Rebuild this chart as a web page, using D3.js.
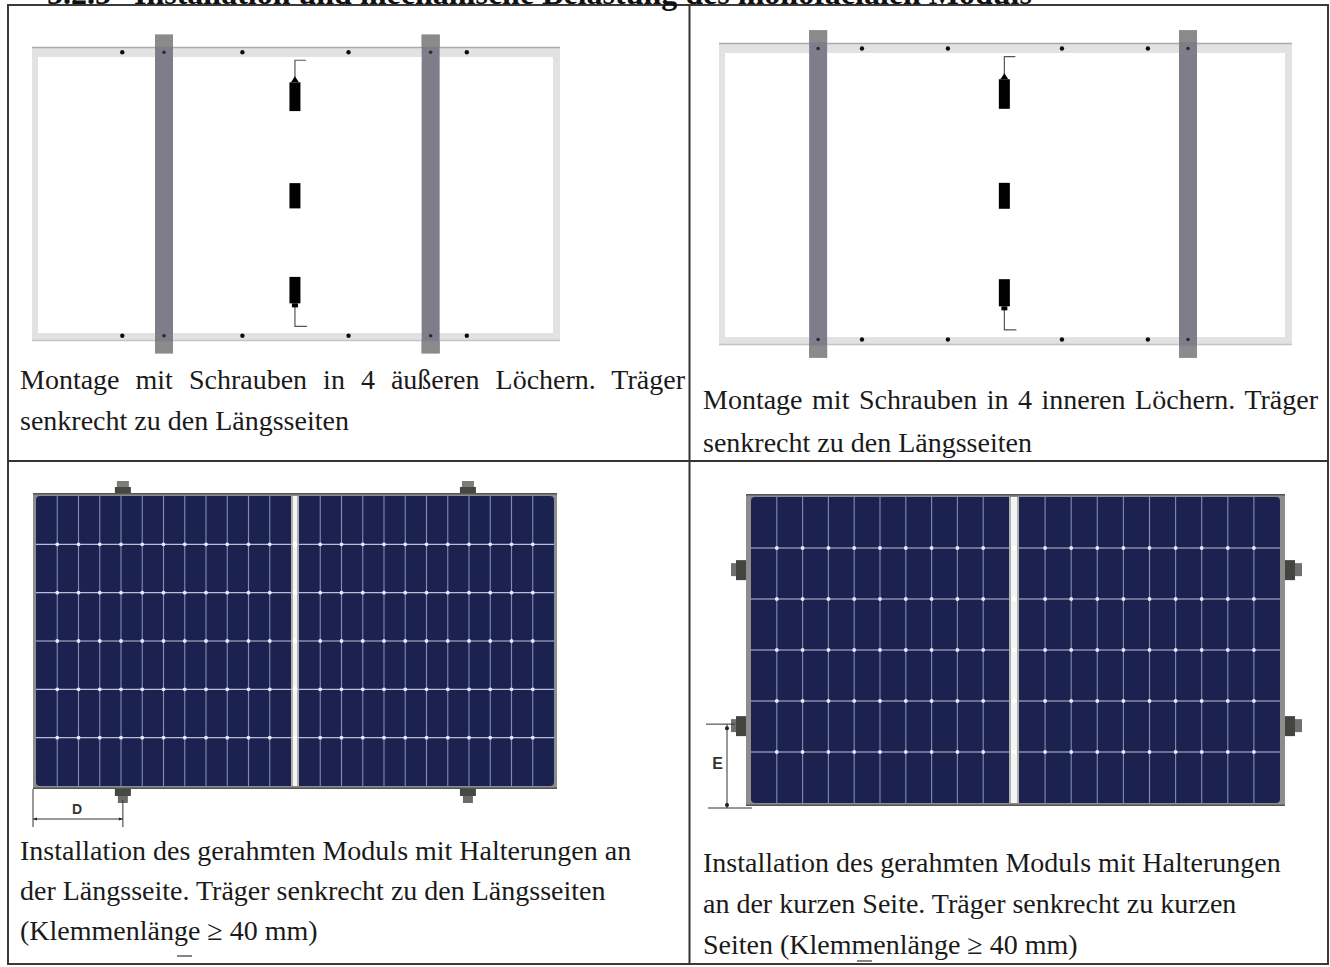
<!DOCTYPE html>
<html>
<head>
<meta charset="utf-8">
<script src="https://cdn.jsdelivr.net/npm/d3@7"></script>
<style>
  body { margin: 0; background: #fff; }
  svg { display: block; }
  text { font-family: "Liberation Serif", serif; fill: #1a1a1a; }
</style>
</head>
<body>
<svg width="1330" height="967"></svg>
<script>
    // module coordinates in mm along length (x) and width (y)
    let headingNumber = "5.2.5";
    let headingText = "Installation und mechanische Belastung des monofacialen Moduls";

    let captionsA = ["Montage mit Schrauben in 4 äußeren Löchern. Träger", "senkrecht zu den Längsseiten"];
    let captionsB = ["Montage mit Schrauben in 4 inneren Löchern. Träger", "senkrecht zu den Längsseiten"];
    let captionsC = ["Installation des gerahmten Moduls mit Halterungen an", "der Längsseite. Träger senkrecht zu den Längsseiten", "(Klemmenlänge ≥ 40 mm)"];
    let captionsD = ["Installation des gerahmten Moduls mit Halterungen", "an der kurzen Seite. Träger senkrecht zu kurzen", "Seiten (Klemmenlänge ≥ 40 mm)"];

    let holesA = [342, 500, 797, 1199, 1510, 1647];
    let holesB = [345, 499, 799, 1197, 1497, 1633];
    let holeRows = [18, 982];
    let beamsA = [500, 1510];
    let beamsB = [346, 1637];
    let boxes = [[120, 218], [463, 549], [782, 872]];
    let clampsC = [343, 1660];
    let clampsD = [244, 744];

    let cellsC = { columns: 12, rows: 6 };
    let cellsD = { columns: 10, rows: 6 };

    let svg = d3.select("svg");

    svg.append("defs").append("filter")
        .attr("id", "soft")
        .append("feGaussianBlur")
        .attr("stdDeviation", 0.65);

    function scales(x0, x1, y0, y1) {
        return {
            x: d3.scaleLinear().domain([0, 2000]).range([x0, x1]),
            y: d3.scaleLinear().domain([0, 1000]).range([y0, y1])
        };
    }

    function rect(g, x, y, w, h, fill) {
        return g.append("rect")
            .attr("x", x).attr("y", y)
            .attr("width", w).attr("height", h)
            .attr("fill", fill);
    }

    function drawRear(s, holes, beams) {
        let g = svg.append("g").attr("filter", "url(#soft)");
        let x = s.x, y = s.y;
        let x0 = x(0), x1 = x(2000), y0 = y(0), y1 = y(1000);

        // frame, light inner band and darker outer edge
        rect(g, x0, y0, x1 - x0, y1 - y0, "#e2e2e2");
        rect(g, x0 + 6, y0 + 10, x1 - x0 - 13, y1 - y0 - 18, "#fff");
        g.append("line").attr("x1", x0).attr("x2", x1).attr("y1", y0 + 0.5).attr("y2", y0 + 0.5)
            .attr("stroke", "#aaa").attr("stroke-width", 1.5);
        g.append("line").attr("x1", x0).attr("x2", x1).attr("y1", y1 - 0.5).attr("y2", y1 - 0.5)
            .attr("stroke", "#c4c4c4").attr("stroke-width", 1.5);

        holeRows.forEach(function (row) {
            g.selectAll(null)
                .data(holes)
                .join("circle")
                .attr("cx", d => x(d))
                .attr("cy", y(row))
                .attr("r", 2.2)
                .attr("fill", "#111");
        });

        beams.forEach(function (b) {
            let bx = x(b) - 9;
            rect(g, bx, y(-42), 18, y(1042) - y(-42), "#7f7d89");
            rect(g, bx, y(-42), 18, 12, "#8b8b8b");
            rect(g, bx, y(1042) - 12, 18, 12, "#8b8b8b");
            holeRows.forEach(function (row) {
                g.append("circle")
                    .attr("cx", x(b)).attr("cy", y(row)).attr("r", 1.8).attr("fill", "#2a2a33");
            });
        });

        // junction boxes with cables
        let bx = x(996);
        boxes.forEach(function (d) {
            rect(g, bx - 5.5, y(d[0]), 11, y(d[1]) - y(d[0]), "#050505");
        });
        g.append("path")
            .attr("d", `M${bx},${y(boxes[0][0])} V${y(45)} H${bx + 11}`)
            .attr("fill", "none").attr("stroke", "#555").attr("stroke-width", 1.2);
        g.append("path")
            .attr("d", `M${bx - 4},${y(boxes[0][0])} L${bx},${y(boxes[0][0]) - 6} L${bx + 4},${y(boxes[0][0])} Z`)
            .attr("fill", "#050505");
        g.append("path")
            .attr("d", `M${bx},${y(boxes[2][1])} V${y(950)} H${bx + 12}`)
            .attr("fill", "none").attr("stroke", "#555").attr("stroke-width", 1.2);
        rect(g, bx - 3, y(boxes[2][1]), 6, 4, "#050505");
    }

    function drawFront(s, cells, strip, pad) {
        let g = svg.append("g").attr("filter", "url(#soft)");
        let x0 = s.x(0), x1 = s.x(2000), y0 = s.y(0), y1 = s.y(1000);

        rect(g, x0, y0, x1 - x0, y1 - y0, "#8d8d8d");
        rect(g, x0, y0, x1 - x0, 1.5, "#555");
        rect(g, x0, y1 - 1.5, x1 - x0, 1.5, "#555");
        let ix0 = x0 + pad, ix1 = x1 - pad, iy0 = y0 + 3, iy1 = y1 - 3;
        rect(g, ix0, iy0, ix1 - ix0, iy1 - iy0, "#1c2450").attr("rx", 4);

        let left = d3.scaleLinear().domain([0, cells.columns]).range([ix0, strip[0]]);
        let right = d3.scaleLinear().domain([0, cells.columns]).range([strip[1], ix1]);
        let rows = d3.scaleLinear().domain([0, cells.rows]).range([iy0, iy1]);
        let inner = d3.range(1, cells.columns);
        let rowLines = d3.range(1, cells.rows);

        [left, right].forEach(function (col) {
            g.selectAll(null)
                .data(inner)
                .join("line")
                .attr("x1", d => col(d)).attr("x2", d => col(d))
                .attr("y1", iy0).attr("y2", iy1)
                .attr("stroke", "#7d8db5").attr("stroke-width", 1.1);
        });
        g.selectAll(null)
            .data(rowLines)
            .join("line")
            .attr("x1", ix0).attr("x2", ix1)
            .attr("y1", d => rows(d)).attr("y2", d => rows(d))
            .attr("stroke", "#b4bedb").attr("stroke-width", 1.2);

        [left, right].forEach(function (col) {
            rowLines.forEach(function (r) {
                g.selectAll(null)
                    .data(inner)
                    .join("circle")
                    .attr("cx", d => col(d)).attr("cy", rows(r))
                    .attr("r", 1.9).attr("fill", "#e6eaf5");
            });
        });

        rect(g, strip[0], iy0, strip[1] - strip[0], iy1 - iy0, "#f4f4f4");
        rect(g, strip[0], iy0, 2, iy1 - iy0, "#b0b0b0");
        rect(g, strip[1] - 2, iy0, 2, iy1 - iy0, "#b0b0b0");
        rowLines.forEach(function (r) {
            g.append("circle")
                .attr("cx", (strip[0] + strip[1]) / 2).attr("cy", rows(r))
                .attr("r", 2.4).attr("fill", "#fff");
        });
        return g;
    }

    // clamps on the long side: dark base against the frame, grey head outside
    function clampsLong(g, s, list) {
        list.forEach(function (d) {
            let cx = s.x(d), y0 = s.y(0), y1 = s.y(1000);
            rect(g, cx - 8, y0 - 6, 16, 6, "#45483f");
            rect(g, cx - 6, y0 - 12, 12, 6, "#7b7b7b");
            rect(g, cx - 8, y1, 16, 7, "#45483f");
            rect(g, cx - 5, y1 + 7, 10, 7, "#6b6b6b");
        });
    }

    function clampsShort(g, s, list) {
        list.forEach(function (d) {
            let cy = s.y(d), x0 = s.x(0), x1 = s.x(2000);
            rect(g, x0 - 10, cy - 10, 10, 20, "#45453f");
            rect(g, x0 - 15, cy - 7, 5, 13, "#6f6f6f");
            rect(g, x1, cy - 10, 10, 20, "#45453f");
            rect(g, x1 + 10, cy - 7, 7, 13, "#6f6f6f");
        });
    }

    function dim(g, x1, y1, x2, y2, w) {
        g.append("line")
            .attr("x1", x1).attr("y1", y1).attr("x2", x2).attr("y2", y2)
            .attr("stroke", "#333").attr("stroke-width", w || 1);
    }

    let panelA = scales(32, 560, 47, 341);
    let panelB = scales(719, 1292, 43, 345);
    let panelC = scales(33, 557, 493, 789);
    let panelD = scales(746, 1285, 494, 806);

    drawRear(panelA, holesA, beamsA);
    drawRear(panelB, holesB, beamsB);

    let gC = drawFront(panelC, cellsC, [291, 299], 3);
    clampsLong(gC, panelC, clampsC);
    let gD = drawFront(panelD, cellsD, [1009, 1019], 5);
    clampsShort(gD, panelD, clampsD);

    // dimension D
    let xD = panelC.x(clampsC[0]);
    dim(gC, panelC.x(0), panelC.y(1000), panelC.x(0), 827);
    dim(gC, xD, 800, xD, 827);
    dim(gC, panelC.x(0), 819, xD, 819);
    gC.selectAll(null)
        .data([[panelC.x(0), 4], [xD, -4]])
        .join("path")
        .attr("d", d => `M${d[0]},819 l${d[1]},-1.6 v3.2 Z`)
        .attr("fill", "#222");
    svg.append("text")
        .attr("x", 77).attr("y", 814)
        .attr("text-anchor", "middle")
        .style("font-family", "'Liberation Sans', sans-serif")
        .style("font-weight", "bold")
        .style("font-size", "14px")
        .style("fill", "#333")
        .text("D");

    // dimension E
    let yE = panelD.y(clampsD[1]) - 2;
    dim(gD, 706, yE, 735, yE);
    dim(gD, 708, 808, 752, 808);
    dim(gD, 727, yE, 727, 808);
    gD.selectAll(null)
        .data([yE + 4, 805])
        .join("circle")
        .attr("cx", 727).attr("cy", d => d).attr("r", 2).attr("fill", "#222");
    svg.append("text")
        .attr("x", 717.5).attr("y", 769)
        .attr("text-anchor", "middle")
        .style("font-family", "'Liberation Sans', sans-serif")
        .style("font-weight", "bold")
        .style("font-size", "16px")
        .style("fill", "#333")
        .text("E");

    // table rules
    let rules = svg.append("g").attr("stroke", "#3a3a3a").attr("stroke-width", 2);
    rules.append("rect")
        .attr("x", 8).attr("y", 5)
        .attr("width", 1320).attr("height", 959)
        .attr("fill", "none");
    dim(rules, 689.5, 5, 689.5, 964, 2);
    dim(rules, 8, 461, 1328, 461, 2);

    // heading is cut off by the page top
    let heading = svg.append("text")
        .attr("y", 4)
        .style("font-weight", "bold")
        .style("font-size", "32px")
        .style("fill", "#111");
    heading.append("tspan").attr("x", 47).text(headingNumber);
    heading.append("tspan").attr("x", 134).text(headingText);

    function caption(lines, x, baselines, justifyTo) {
        lines.forEach(function (line, i) {
            let t = svg.append("text")
                .attr("x", x)
                .attr("y", baselines[i])
                .style("font-size", "28px")
                .text(line);
            if (justifyTo && i == 0) {
                let gaps = line.split(" ").length - 1;
                let extra = (justifyTo - x - t.node().getComputedTextLength()) / gaps;
                t.attr("word-spacing", extra);
            }
        });
    }

    caption(captionsA, 20, [389, 430], 685);
    caption(captionsB, 703, [409, 452], 1318);
    caption(captionsC, 20, [860, 900, 940]);
    caption(captionsD, 703, [872, 913, 954]);

    // stray dashes left under the last lines
    dim(svg, 177, 956, 192, 956, 1.2);
    dim(svg, 857, 961, 872, 961, 1.2);
</script>
</body>
</html>
